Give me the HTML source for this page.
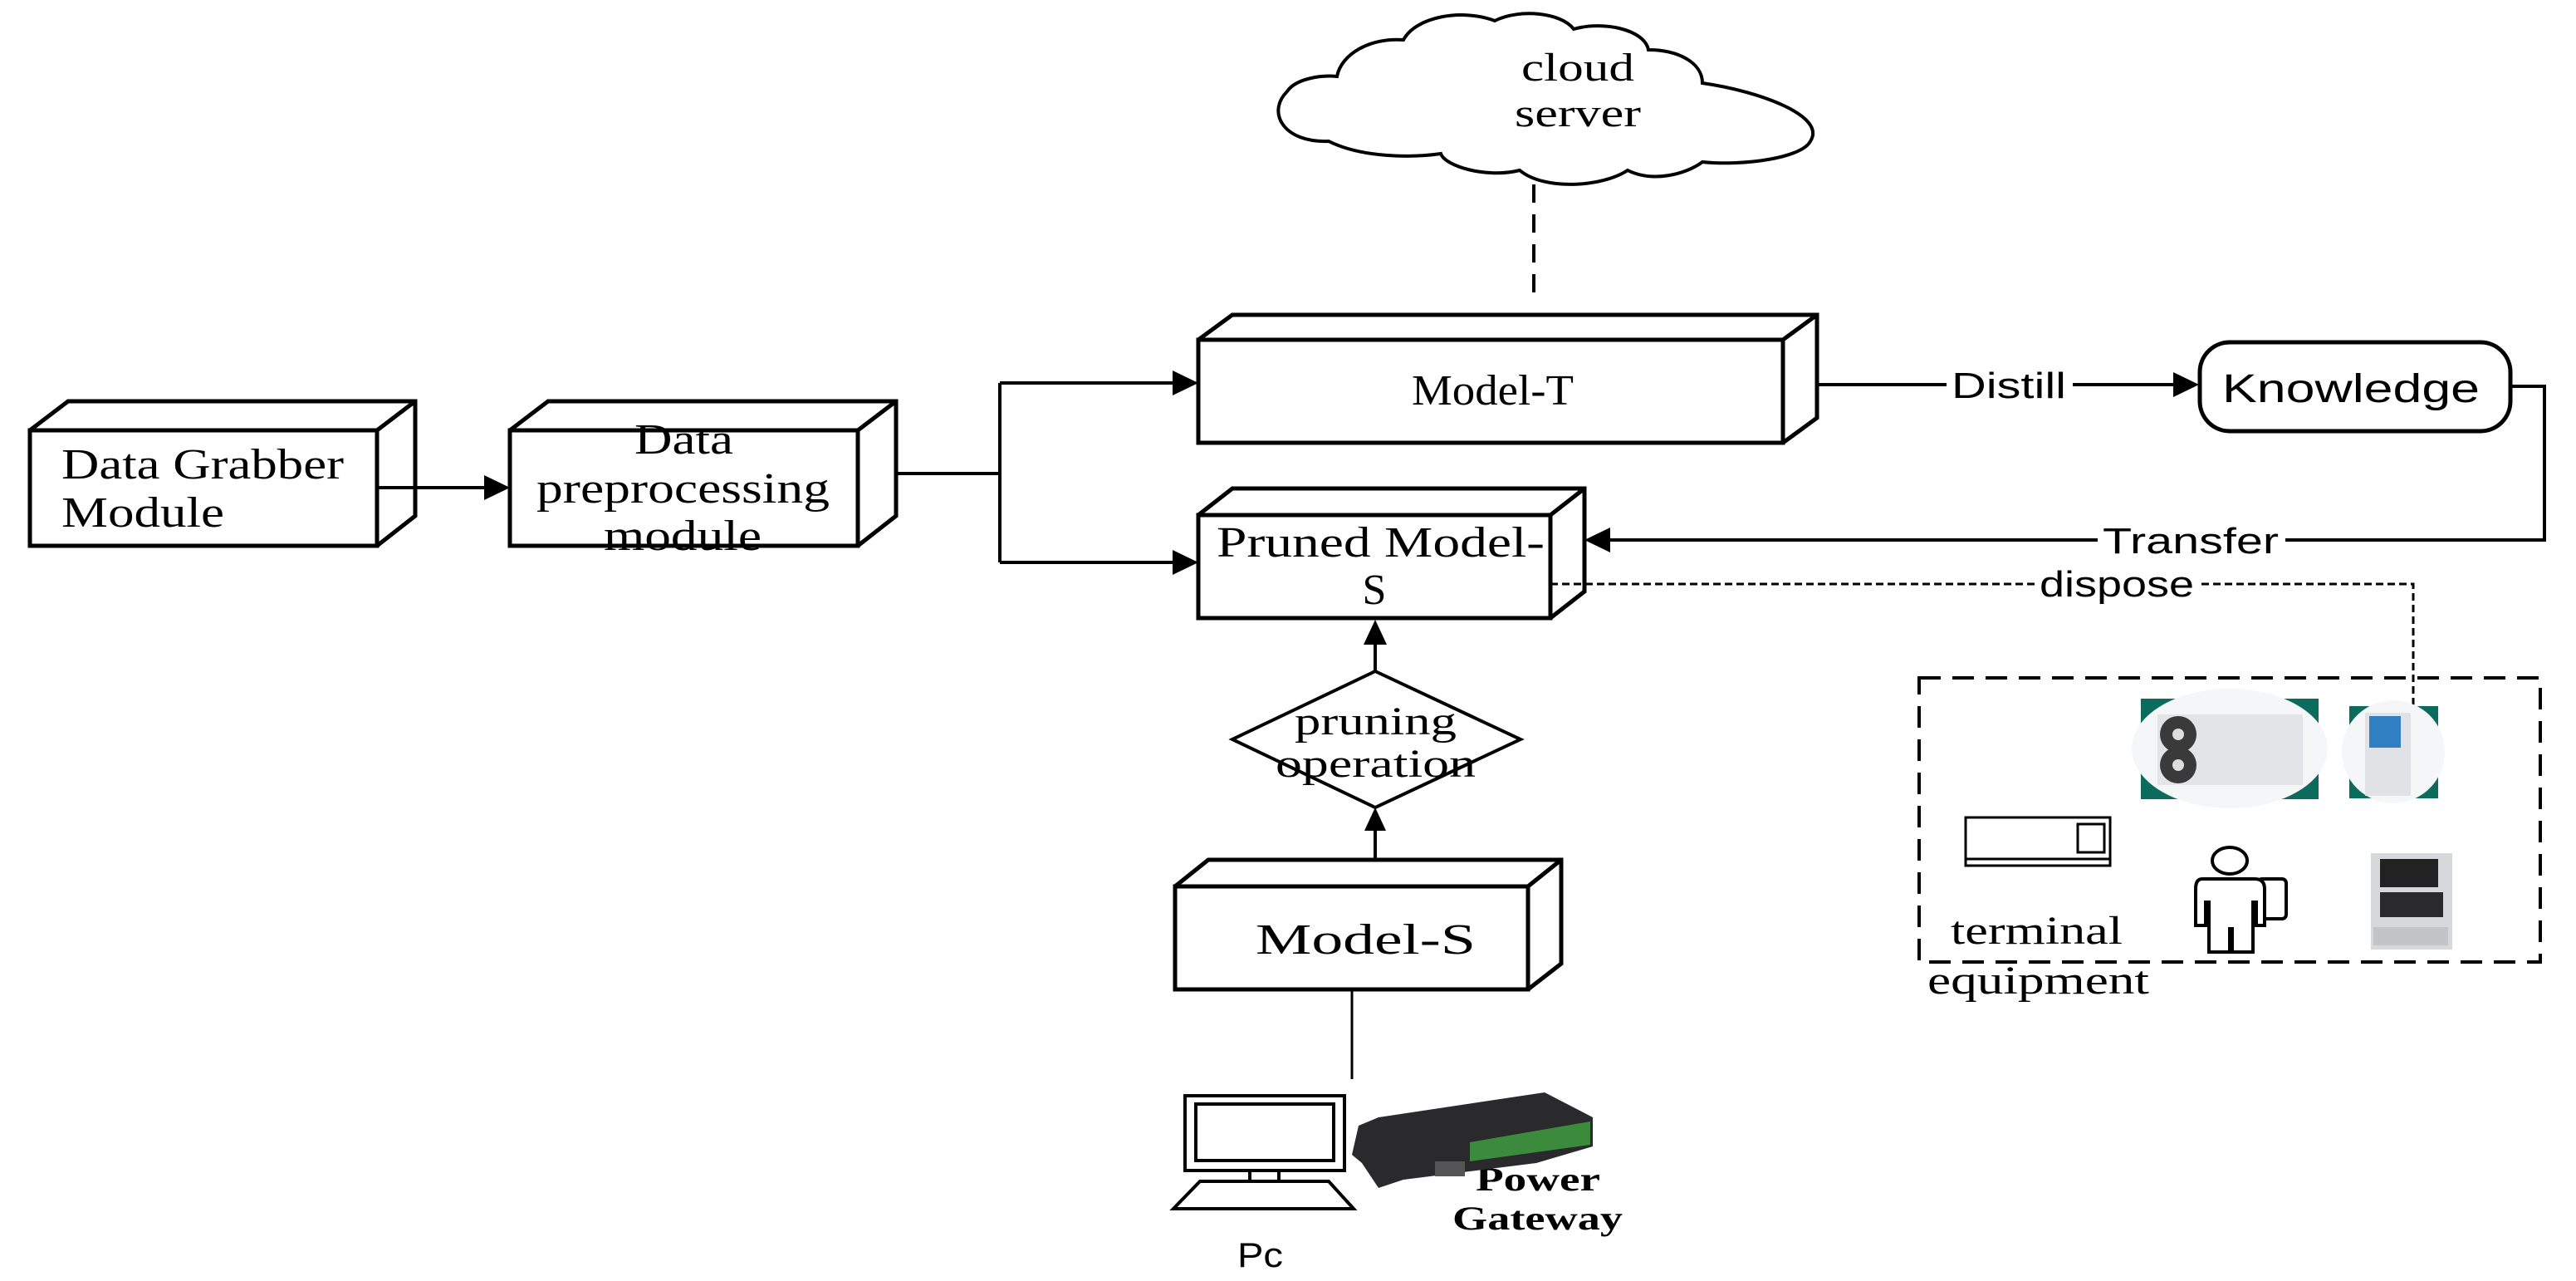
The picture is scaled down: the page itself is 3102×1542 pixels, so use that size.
<!DOCTYPE html>
<html><head><meta charset="utf-8"><style>
html,body{margin:0;padding:0;background:#fff;}
svg{display:block;}
.s{font-family:"Liberation Serif",serif;fill:#000;}
.a{font-family:"Liberation Sans",sans-serif;fill:#000;}
</style></head><body>
<svg width="3102" height="1542" viewBox="0 0 3102 1542" xmlns="http://www.w3.org/2000/svg">
<g fill="none" stroke="#000" stroke-width="5" stroke-linejoin="miter">
<path d="M36 518 H454 V657 H36 Z M36 518 L82 483 H500 V621 L454 657 M454 518 L500 483" fill="#fff"/>
<path d="M614 518 H1033 V657 H614 Z M614 518 L660 483 H1079 V621 L1033 657 M1033 518 L1079 483" fill="#fff"/>
<path d="M1443 409 H2147 V533 H1443 Z M1443 409 L1484 379 H2188 V503 L2147 533 M2147 409 L2188 379" fill="#fff"/>
<path d="M1443 620 H1867 V744 H1443 Z M1443 620 L1484 588 H1908 V712 L1867 744 M1867 620 L1908 588" fill="#fff"/>
<path d="M1415 1067 H1840 V1191 H1415 Z M1415 1067 L1455 1035 H1880 V1160 L1840 1191 M1840 1067 L1880 1035" fill="#fff"/>
<rect x="2649" y="412" width="374" height="107" rx="36" fill="#fff"/>
<path d="M1656 808 L1831 890 L1656 972 L1484 890 Z" fill="#fff" stroke-width="4"/>
</g>
<g fill="none" stroke="#000" stroke-width="4">
<path d="M454 587 H585"/>
<path d="M1079 570 H1204 M1204 461 V677 M1204 461 H1415 M1204 677 H1415"/>
<path d="M2190 463 H2620"/>
<path d="M3023 465 H3064 V650 H1935"/>
<path d="M1656 1035 V980 M1656 808 V770"/>
<path d="M1628 1191 V1299" stroke-width="3"/>
</g>
<g fill="#000">
<path d="M614 587 L583 572 V602 Z"/>
<path d="M1443 461 L1412 446 V476 Z"/>
<path d="M1443 677 L1412 662 V692 Z"/>
<path d="M2648 463 L2617 448 V478 Z"/>
<path d="M1908 650 L1939 635 V665 Z"/>
<path d="M1656 746 L1642 776 H1670 Z"/>
<path d="M1656 972 L1643 1000 H1669 Z"/>
</g>
<g fill="none" stroke="#000">
<path d="M1847 186 V362" stroke-width="4" stroke-dasharray="22 14"/>
<path d="M1867 703 H2906 V851" stroke-width="3" stroke-dasharray="9 5"/>
<rect x="2311" y="816" width="748" height="342" stroke-width="4" stroke-dasharray="26 14"/>
</g>
<g fill="#fff">
<rect x="2344" y="440" width="152" height="46"/>
<rect x="2526" y="627" width="226" height="46"/>
<rect x="2450" y="682" width="200" height="44"/>
</g>
<path d="M1600 170 C1545 172 1525 135 1550 110 C1560 95 1590 90 1610 92 C1615 65 1650 45 1690 48 C1705 20 1760 10 1800 25 C1830 10 1880 15 1895 35 C1930 25 1980 35 1985 60 C2020 60 2050 75 2050 100 C2120 110 2200 140 2180 170 C2170 190 2100 200 2050 195 C2030 210 1990 220 1960 205 C1930 225 1860 230 1830 205 C1790 215 1740 200 1735 185 C1700 190 1640 190 1600 170 Z" fill="#fff" stroke="#000" stroke-width="4"/>
<g class="s" font-size="52">
<text x="74" y="576" textLength="340" lengthAdjust="spacingAndGlyphs">Data Grabber</text>
<text x="74" y="634" textLength="196" lengthAdjust="spacingAndGlyphs">Module</text>
<text x="764" y="546" textLength="119" lengthAdjust="spacingAndGlyphs">Data</text>
<text x="646" y="605" textLength="353" lengthAdjust="spacingAndGlyphs">preprocessing</text>
<text x="727" y="662" textLength="190" lengthAdjust="spacingAndGlyphs">module</text>
<text x="1700" y="487" textLength="195" lengthAdjust="spacingAndGlyphs">Model-T</text>
<text x="1465" y="670" textLength="395" lengthAdjust="spacingAndGlyphs">Pruned Model-</text>
<text x="1655" y="727" text-anchor="middle">S</text>
<text x="1512" y="1148" textLength="265" lengthAdjust="spacingAndGlyphs">Model-S</text>
<text x="1559" y="884" textLength="195" lengthAdjust="spacingAndGlyphs" font-size="48">pruning</text>
<text x="1536" y="935" textLength="241" lengthAdjust="spacingAndGlyphs" font-size="48">operation</text>
<text x="1832" y="97" textLength="136" lengthAdjust="spacingAndGlyphs" font-size="48">cloud</text>
<text x="1824" y="152" textLength="152" lengthAdjust="spacingAndGlyphs" font-size="48">server</text>
<text x="2349" y="1136" textLength="207" lengthAdjust="spacingAndGlyphs" font-size="48">terminal</text>
<text x="2321" y="1196" textLength="267" lengthAdjust="spacingAndGlyphs" font-size="48">equipment</text>
<text x="1777" y="1433" textLength="150" lengthAdjust="spacingAndGlyphs" font-size="40" font-weight="bold">Power</text>
<text x="1749" y="1480" textLength="205" lengthAdjust="spacingAndGlyphs" font-size="40" font-weight="bold">Gateway</text>
</g>
<g class="a">
<text x="2676" y="484" textLength="310" lengthAdjust="spacingAndGlyphs" font-size="48">Knowledge</text>
<text x="2350" y="479" textLength="138" lengthAdjust="spacingAndGlyphs" font-size="44">Distill</text>
<text x="2532" y="666" textLength="212" lengthAdjust="spacingAndGlyphs" font-size="44">Transfer</text>
<text x="2456" y="718" textLength="186" lengthAdjust="spacingAndGlyphs" font-size="44">dispose</text>
<text x="1490" y="1525" textLength="55" lengthAdjust="spacingAndGlyphs" font-size="42">Pc</text>
</g>
<g fill="none" stroke="#000" stroke-width="4">
<rect x="1427" y="1319" width="192" height="90"/>
<rect x="1440" y="1329" width="166" height="68"/>
<path d="M1505 1409 V1422 M1540 1409 V1422"/>
<path d="M1445 1422 H1600 L1630 1455 H1413 Z"/>
</g>
<path d="M1636 1355 L1660 1345 L1860 1315 L1918 1345 L1918 1380 L1850 1400 L1690 1420 L1660 1430 L1640 1400 L1628 1390 Z" fill="#2a2a2c"/>
<path d="M1770 1375 L1915 1350 V1378 L1770 1398 Z" fill="#3c8a3c"/>
<rect x="1728" y="1398" width="36" height="18" fill="#555"/>
<rect x="2578" y="841" width="214" height="121" fill="#0b6b5c"/>
<ellipse cx="2685" cy="901" rx="118" ry="72" fill="#f4f6f8"/>
<rect x="2598" y="860" width="175" height="85" fill="#e2e4e8"/>
<circle cx="2623" cy="884" r="22" fill="#3a3a3a"/>
<circle cx="2623" cy="921" r="22" fill="#3a3a3a"/>
<circle cx="2623" cy="884" r="7" fill="#ddd"/>
<circle cx="2623" cy="921" r="7" fill="#ddd"/>
<rect x="2829" y="850" width="107" height="111" fill="#0b6b5c"/>
<ellipse cx="2882" cy="905" rx="62" ry="62" fill="#f4f6f8"/>
<rect x="2848" y="858" width="55" height="100" fill="#e0e2e6"/>
<rect x="2853" y="862" width="38" height="38" fill="#2f7fc2"/>
<g fill="none" stroke="#000" stroke-width="3">
<rect x="2367" y="984" width="174" height="50"/>
<rect x="2367" y="1034" width="174" height="8"/>
<rect x="2502" y="992" width="32" height="34"/>
</g>
<g fill="#fff" stroke="#000" stroke-width="4">
<ellipse cx="2685" cy="1036" rx="21" ry="16"/>
<rect x="2719" y="1058" width="34" height="48" rx="5"/>
<path d="M2652 1058 H2715 Q2727 1058 2727 1070 V1114 H2717 V1086 H2713 V1146 H2688 V1118 H2685 V1146 H2660 V1086 H2656 V1114 H2644 V1070 Q2644 1058 2652 1058 Z"/>
</g>
<rect x="2855" y="1027" width="98" height="116" fill="#d6d8dc"/>
<rect x="2866" y="1034" width="70" height="34" fill="#222"/>
<rect x="2866" y="1074" width="76" height="30" fill="#2a2a2e"/>
<rect x="2858" y="1116" width="90" height="22" fill="#c2c4c8"/>
</svg>
</body></html>
